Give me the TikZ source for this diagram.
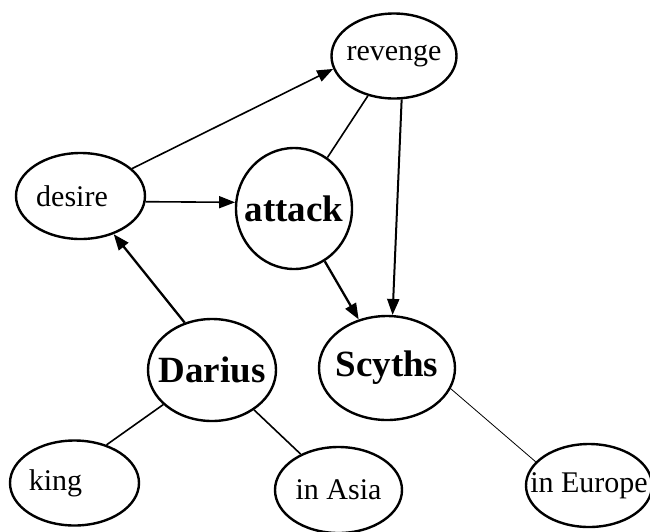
\documentclass[tikz,border=0pt]{standalone}
\usepackage{fontspec}
\setmainfont{Liberation Serif}
\usetikzlibrary{shapes.geometric,arrows.meta}

\tikzset{
  concept/.style={draw, ellipse, line width=2.4pt, inner xsep=-30pt, inner ysep=0pt,
    font=\fontsize{30}{31}\selectfont},
  keyconcept/.style={concept, font=\bfseries\fontsize{37}{38}\selectfont},
  link/.style={line width=1.6pt},
  arr/.style={link, -{Triangle[length=16pt,width=12pt]}},
}

\begin{document}
\begin{tikzpicture}[x=1pt,y=-1pt]
        \useasboundingbox (0,0) rectangle (650,531);

        \node[concept, minimum width=125pt, minimum height=85pt] (revenge) at (394,56) {revenge};
        \node[concept, minimum width=129pt, minimum height=86pt] (desire) at (80.5,196) {desire\hspace*{17pt}};
        \node[keyconcept, minimum width=116pt, minimum height=121pt] (attack) at (294,208.5) {attack};

        \node[keyconcept, minimum width=128pt, minimum height=102pt] (Darius) at (212,370) {Darius};
        \node[keyconcept, minimum width=136pt, minimum height=104pt] (Scyths) at (387,368) {Scyths};

        \node[concept, minimum width=129pt, minimum height=85pt] (king) at (74.5,483) {king\hspace*{38pt}};
        \node[concept, minimum width=127pt, minimum height=86pt] (asia) at (338.5,490) {in Asia};
        \node[concept, minimum width=126pt, minimum height=83pt] (europe) at (589,485.5) {in Europe};

        % arrows
        \draw[arr] (desire.28) -- (revenge.-168);
        \draw[arr] (desire.-5) -- (attack.174);
        \draw[arr, line width=2.3pt] (Darius.120) -- (desire.-49);
        \draw[arr, line width=2pt] (revenge.-80) -- (Scyths.84);
        \draw[arr, line width=2.3pt] (attack) -- (Scyths);

        % plain links
        \draw[link] (revenge) -- (attack);
        \draw[link] (Darius) -- (king.50);
        \draw[link] (Darius) -- (asia);
        \draw[link, line width=0.8pt] (Scyths.-18) -- (europe.156);
\end{tikzpicture}
\end{document}
